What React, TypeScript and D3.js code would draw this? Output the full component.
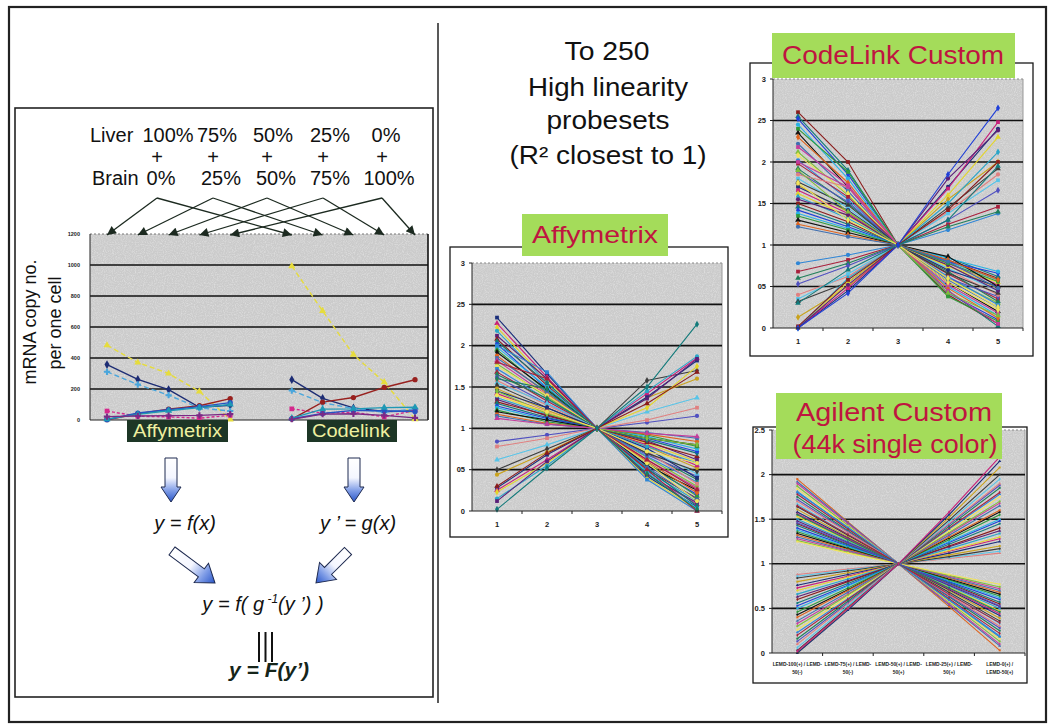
import React from "react";
import * as d3 from "d3";

const FONT = "'Liberation Sans', Arial, Helvetica, sans-serif";

// ---------------- Left panel data ----------------
const mixSlots = ["a1", "a2", "a3", "a4", "a5", "gap", "c1", "c2", "c3", "c4", "c5"];
const affySlots = ["a1", "a2", "a3", "a4", "a5"];
const codelinkSlots = ["c1", "c2", "c3", "c4", "c5"];
const copyTicks = [0, 200, 400, 600, 800, 1000, 1200];
const liverPct = ["100%", "75%", "50%", "25%", "0%"];
const brainPct = ["0%", "25%", "50%", "75%", "100%"];
const copyAffy = [
  [482, 371, 300, 184, 4],
  [358, 262, 196, 82, 95],
  [311, 229, 160, 78, 58],
  [58, 24, 20, 12, 30],
  [2, 40, 70, 92, 138],
  [2, 45, 66, 86, 112],
  [6, 36, 60, 80, 100],
  [22, 26, 28, 30, 38],
];
const copyCodelink = [
  [993, 704, 422, 244, 6],
  [260, 140, 78, 55, 58],
  [190, 112, 74, 50, 72],
  [72, 45, 50, 20, 62],
  [6, 115, 145, 210, 260],
  [8, 42, 62, 58, 55],
  [12, 70, 72, 80, 82],
  [5, 38, 40, 30, 14],
];
const copyColors = ["#e6dc3c", "#1c2c74", "#4aa6dc", "#d4288c", "#98201e", "#2554c4", "#1e98b4", "#7a2a86"];
const copyDash = ["5,3", "", "5,3", "3,2", "", "", "", ""];

// ---------------- Right panel data ----------------
const sampleLabels = ["1", "2", "3", "4", "5"];
const ratioTicks = [0, 0.5, 1, 1.5, 2, 2.5, 3];
const affyTickText = ["0", "05", "1", "1.5", "2", "25", "3"];
const codelinkTickText = ["0", "05", "1", "15", "2", "25", "3"];
const agilentTicks = [0, 0.5, 1, 1.5, 2, 2.5];
const agilentTickText = ["0", "0.5", "1", "1.5", "2", "2.5"];
const agilentSampleText = [
  ["LEMD-100(+) / LEMD-", "50(-)"],
  ["LEMD-75(+) / LEMD-", "50(-)"],
  ["LEMD-50(+) / LEMD-", "50(+)"],
  ["LEMD-25(+) / LEMD-", "50(+)"],
  ["LEMD-0(+) /", "LEMD-50(+)"],
];

const affyRatios = [
  [2.34, 1.66, 1, 0.42, 0.05], [2.27, 1.62, 1, 0.45, 0.08], [2.22, 1.58, 1, 0.4, 0.02],
  [2.18, 1.55, 1, 0.48, 0.12], [2.12, 1.6, 1, 0.44, 0.1], [2.08, 1.52, 1, 0.5, 0.15],
  [2.05, 1.55, 1, 0.52, 0.06], [2.02, 1.48, 1, 0.55, 0.2], [1.98, 1.5, 1, 0.47, 0.03],
  [1.95, 1.45, 1, 0.58, 0.18], [1.92, 1.47, 1, 0.55, 0.25], [1.88, 1.42, 1, 0.6, 0.22],
  [1.85, 1.44, 1, 0.53, 0.14], [1.82, 1.4, 1, 0.62, 0.28], [1.78, 1.38, 1, 0.65, 0.3],
  [1.75, 1.4, 1, 0.58, 0.12], [1.72, 1.35, 1, 0.66, 0.35], [1.68, 1.33, 1, 0.62, 0.26],
  [1.65, 1.36, 1, 0.7, 0.38], [1.62, 1.3, 1, 0.68, 0.42], [1.58, 1.28, 1, 0.72, 0.33],
  [1.55, 1.3, 1, 0.75, 0.45], [1.52, 1.25, 1, 0.7, 0.48], [1.48, 1.22, 1, 0.78, 0.52],
  [1.45, 1.25, 1, 0.76, 0.4], [1.42, 1.2, 1, 0.8, 0.55], [1.4, 1.18, 1, 0.82, 0.6],
  [1.37, 1.17, 1, 0.78, 0.58], [1.35, 1.15, 1, 0.85, 0.62], [1.32, 1.16, 1, 0.83, 0.66],
  [1.3, 1.13, 1, 0.86, 0.7], [1.27, 1.12, 1, 0.88, 0.72], [1.25, 1.1, 1, 0.9, 0.75],
  [1.22, 1.08, 1, 0.92, 0.78], [1.2, 1.1, 1, 0.88, 0.8], [1.17, 1.06, 1, 0.93, 0.84],
  [1.15, 1.05, 1, 0.95, 0.88], [1.12, 1.05, 1, 0.94, 0.9], [1.45, 1.18, 1, 0.88, 0.8],
  [1.4, 1.2, 1, 0.72, 0.58], [2.0, 1.68, 1, 0.38, 0.0], [1.8, 1.6, 1, 0.5, 0.0],
  [1.6, 1.48, 1, 0.45, 0.02],
  [0.84, 0.92, 1, 1.07, 1.15], [0.78, 0.88, 1, 1.1, 1.25], [0.62, 0.8, 1, 1.2, 1.37],
  [0.5, 0.75, 1, 1.58, 1.7], [0.44, 0.71, 1, 1.37, 1.6], [0.28, 0.68, 1, 1.38, 1.82],
  [0.25, 0.62, 1, 1.42, 1.85], [0.23, 0.58, 1, 1.25, 1.75], [0.15, 0.55, 1, 1.45, 1.87],
  [0.12, 0.6, 1, 1.36, 1.84], [0.3, 0.7, 1, 1.3, 1.68], [0.02, 0.52, 1, 1.5, 2.26],
];

const codelinkRatios = [
  [2.6, 2.0, 1, 0.4, 0.05], [2.55, 1.9, 1, 0.45, 0.02], [2.52, 1.85, 1, 0.42, 0.1],
  [2.45, 1.8, 1, 0.5, 0.15], [2.4, 1.88, 1, 0.38, 0.08], [2.35, 1.7, 1, 0.55, 0.2],
  [2.3, 1.75, 1, 0.48, 0.12], [2.22, 1.65, 1, 0.58, 0.25], [2.18, 1.72, 1, 0.52, 0.18],
  [2.12, 1.6, 1, 0.6, 0.3], [2.08, 1.62, 1, 0.55, 0.22], [2.02, 1.55, 1, 0.62, 0.28],
  [1.98, 1.58, 1, 0.65, 0.35], [1.92, 1.5, 1, 0.68, 0.32], [1.88, 1.52, 1, 0.6, 0.38],
  [1.85, 1.7, 1, 0.7, 0.4], [1.8, 1.45, 1, 0.72, 0.45], [1.76, 1.48, 1, 0.66, 0.42],
  [1.72, 1.4, 1, 0.75, 0.48], [1.7, 1.42, 1, 0.7, 0.5], [1.66, 1.38, 1, 0.78, 0.52],
  [1.62, 1.35, 1, 0.74, 0.55], [1.58, 1.32, 1, 0.8, 0.58], [1.55, 1.36, 1, 0.76, 0.45],
  [1.5, 1.28, 1, 0.82, 0.6], [1.46, 1.25, 1, 0.85, 0.62], [1.42, 1.22, 1, 0.8, 0.66],
  [1.38, 1.2, 1, 0.84, 0.68], [1.35, 1.18, 1, 0.78, 0.56], [1.3, 1.15, 1, 0.86, 0.5],
  [1.25, 1.12, 1, 0.82, 0.58], [1.22, 1.1, 1, 0.8, 0.48], [2.0, 1.7, 1, 0.45, 0.05],
  [1.9, 1.4, 1, 0.42, 0.15], [1.75, 1.3, 1, 0.6, 0.25],
  [0.78, 0.88, 1, 1.18, 1.38], [0.68, 0.82, 1, 1.25, 1.46], [0.6, 0.78, 1, 1.22, 1.4],
  [0.53, 0.75, 1, 1.3, 1.66], [0.4, 0.62, 1, 1.4, 1.85], [0.35, 0.65, 1, 1.38, 1.78],
  [0.32, 0.55, 1, 1.45, 1.92], [0.13, 0.5, 1, 1.55, 2.0], [0.0, 0.45, 1, 1.7, 2.4],
  [0.0, 0.48, 1, 1.68, 2.48], [0.0, 0.55, 1, 1.6, 2.3], [0.0, 0.6, 1, 1.5, 2.12],
  [0.0, 0.52, 1, 1.8, 2.38], [0.02, 0.58, 1, 1.42, 2.0], [0.3, 0.7, 1, 1.3, 1.95],
  [0.0, 0.42, 1, 1.85, 2.65],
];

const agilentRatios = [
  [1.95, 1.47, 1, 0.52, 0.03], [1.92, 1.46, 1, 0.54, 0.08], [1.9, 1.45, 1, 0.55, 0.1],
  [1.87, 1.43, 1, 0.57, 0.13], [1.84, 1.42, 1, 0.58, 0.16], [1.81, 1.4, 1, 0.6, 0.19],
  [1.78, 1.39, 1, 0.61, 0.22], [1.75, 1.37, 1, 0.63, 0.25], [1.72, 1.36, 1, 0.64, 0.28],
  [1.7, 1.35, 1, 0.65, 0.3], [1.67, 1.33, 1, 0.67, 0.33], [1.64, 1.32, 1, 0.68, 0.36],
  [1.61, 1.3, 1, 0.7, 0.39], [1.58, 1.29, 1, 0.71, 0.42], [1.56, 1.28, 1, 0.72, 0.44],
  [1.53, 1.26, 1, 0.74, 0.47], [1.5, 1.25, 1, 0.75, 0.5], [1.48, 1.24, 1, 0.76, 0.52],
  [1.45, 1.22, 1, 0.78, 0.55], [1.43, 1.21, 1, 0.79, 0.57], [1.4, 1.2, 1, 0.8, 0.6],
  [1.38, 1.19, 1, 0.81, 0.62], [1.36, 1.18, 1, 0.82, 0.64], [1.34, 1.17, 1, 0.83, 0.66],
  [1.32, 1.16, 1, 0.84, 0.68], [1.3, 1.15, 1, 0.85, 0.7], [1.28, 1.14, 1, 0.86, 0.72],
  [1.26, 1.13, 1, 0.87, 0.74], [1.25, 1.12, 1, 0.88, 0.77], [1.8, 1.41, 1, 0.59, 0.18],
  [1.65, 1.33, 1, 0.66, 0.34], [1.55, 1.27, 1, 0.73, 0.46], [1.46, 1.23, 1, 0.77, 0.53],
  [0.88, 0.94, 1, 1.06, 1.12], [0.86, 0.93, 1, 1.07, 1.14], [0.84, 0.92, 1, 1.08, 1.17],
  [0.8, 0.9, 1, 1.1, 1.2], [0.76, 0.88, 1, 1.12, 1.25], [0.73, 0.86, 1, 1.14, 1.28],
  [0.7, 0.85, 1, 1.15, 1.3], [0.66, 0.83, 1, 1.17, 1.34], [0.63, 0.81, 1, 1.19, 1.37],
  [0.6, 0.8, 1, 1.2, 1.4], [0.56, 0.78, 1, 1.22, 1.45], [0.53, 0.76, 1, 1.24, 1.48],
  [0.5, 0.75, 1, 1.25, 1.5], [0.46, 0.73, 1, 1.27, 1.55], [0.43, 0.71, 1, 1.29, 1.58],
  [0.4, 0.7, 1, 1.3, 1.6], [0.36, 0.68, 1, 1.32, 1.65], [0.33, 0.66, 1, 1.34, 1.68],
  [0.3, 0.65, 1, 1.35, 1.7], [0.26, 0.63, 1, 1.37, 1.75], [0.23, 0.61, 1, 1.39, 1.78],
  [0.2, 0.6, 1, 1.4, 1.8], [0.16, 0.58, 1, 1.42, 1.85], [0.13, 0.56, 1, 1.44, 1.88],
  [0.1, 0.55, 1, 1.45, 1.9], [0.06, 0.53, 1, 1.47, 1.95], [0.03, 0.51, 1, 1.49, 2.0],
  [0.0, 0.5, 1, 1.52, 2.08], [0.0, 0.48, 1, 1.55, 2.15], [0.02, 0.5, 1, 1.58, 2.2],
];

const palette = [
  "#1b2f7a", "#c8207a", "#e3d52a", "#2aa5c8", "#5a1f78", "#8a1c1c", "#127a7a", "#1f3fd8",
  "#27b3e6", "#2f9a3a", "#111111", "#e0641e", "#3f6fb0", "#c43c9c", "#7fbf3a", "#f2e35a",
  "#2f86d6", "#a8203c", "#1f7f5a", "#5050c0", "#e08080", "#58c4e8", "#3c3c3c", "#c9a21c",
];
const symbols = [d3.symbolSquare, d3.symbolTriangle, d3.symbolDiamond, d3.symbolCircle];

type Plot = { x0: number; x1: number; y0: number; y1: number };
type Frame = { x: number; y: number; w: number; h: number };

function RatioChart(props: {
  frame: Frame; plot: Plot; yMax: number; ticks: number[]; tickText: string[];
  series: number[][]; markerSize: number; multiLabels?: string[][]; colorOffset: number;
}) {
  const { frame, plot, yMax, ticks, tickText, series, markerSize, multiLabels, colorOffset } = props;
  const x = d3.scalePoint<string>().domain(sampleLabels).range([plot.x0, plot.x1]).padding(0.5);
  const y = d3.scaleLinear().domain([0, yMax]).range([plot.y0, plot.y1]);
  const line = d3.line<number>().x((_, i) => x(sampleLabels[i]) as number).y((d) => y(d));
  const step = x.step();
  return (
    <g>
      <rect x={frame.x} y={frame.y} width={frame.w} height={frame.h} fill="#fff" stroke="#1a1a1a" strokeWidth={1.3} />
      <rect x={plot.x0} y={y(yMax)} width={plot.x1 - plot.x0} height={y(0) - y(yMax)} fill="#cbcbcb" />
      <rect x={plot.x0} y={y(yMax)} width={plot.x1 - plot.x0} height={y(0) - y(yMax)} fill="#fff" filter="url(#grain)" />
      <line x1={plot.x0} x2={plot.x1} y1={y(yMax)} y2={y(yMax)} stroke="#888" strokeDasharray="2,2" />
      <line x1={plot.x1} x2={plot.x1} y1={y(yMax)} y2={y(0)} stroke="#999" />
      {ticks.filter((t) => t > 0 && t < yMax).map((t) => (
        <line key={t} x1={plot.x0} x2={plot.x1} y1={y(t)} y2={y(t)} stroke="#111" strokeWidth={1.6} />
      ))}
      {series.map((s, i) => (
        <path key={i} d={line(s) as string} fill="none" stroke={palette[(i + colorOffset) % palette.length]} strokeWidth={1.1} />
      ))}
      {markerSize > 0 && series.map((s, i) => (
        <g key={"m" + i} fill={palette[(i + colorOffset) % palette.length]}>
          {s.map((v, j) => (
            <path key={j} transform={`translate(${x(sampleLabels[j])},${y(v)})`} d={d3.symbol(symbols[i % symbols.length], markerSize)() as string} />
          ))}
        </g>
      ))}
      <line x1={plot.x0} x2={plot.x0} y1={y(yMax)} y2={y(0)} stroke="#222" strokeWidth={1} />
      <line x1={plot.x0} x2={plot.x1} y1={y(0)} y2={y(0)} stroke="#222" strokeWidth={1} />
      {ticks.map((t, i) => (
        <g key={"t" + t}>
          <line x1={plot.x0 - 3} x2={plot.x0} y1={y(t)} y2={y(t)} stroke="#222" />
          <text x={plot.x0 - 7} y={y(t) + 2.5} fontSize={7.5} fontWeight="bold" textAnchor="end" fill="#222" fontFamily={FONT}>{tickText[i]}</text>
        </g>
      ))}
      {sampleLabels.map((lab, i) => (
        <line key={"xt" + i} x1={plot.x0 + step * (i + 1)} x2={plot.x0 + step * (i + 1)} y1={y(0)} y2={y(0) + 3} stroke="#222" />
      ))}
      {!multiLabels && sampleLabels.map((lab) => (
        <text key={"xl" + lab} x={x(lab)} y={y(0) + 16} fontSize={7.5} fontWeight="bold" textAnchor="middle" fill="#222" fontFamily={FONT}>{lab}</text>
      ))}
      {multiLabels && sampleLabels.map((lab, i) => (
        <text key={"xm" + lab} x={x(lab)} y={y(0) + 13} fontSize={4.9} fontWeight="bold" textAnchor="middle" fill="#222" fontFamily={FONT}>
          <tspan x={x(lab)}>{multiLabels[i][0]}</tspan>
          <tspan x={x(lab)} dy={8}>{multiLabels[i][1]}</tspan>
        </text>
      ))}
    </g>
  );
}

function BlockArrow({ x1, y1, x2, y2, sw, hw, hl }: { x1: number; y1: number; x2: number; y2: number; sw: number; hw: number; hl: number }) {
  const L = Math.hypot(x2 - x1, y2 - y1);
  const ang = (Math.atan2(y2 - y1, x2 - x1) * 180) / Math.PI;
  const d = `M0,${-sw / 2} L${L - hl},${-sw / 2} L${L - hl},${-hw / 2} L${L},0 L${L - hl},${hw / 2} L${L - hl},${sw / 2} L0,${sw / 2} Z`;
  return <path d={d} transform={`translate(${x1},${y1}) rotate(${ang})`} fill="url(#blueGrad)" stroke="#1e2a50" strokeWidth={1} />;
}

export default function App() {
  // left copy-number chart
  const lx = d3.scalePoint<string>().domain(mixSlots).range([107, 415]);
  const ly = d3.scaleLinear().domain([0, 1200]).range([420, 234]);
  const lline = d3.line<number>().y((d) => ly(d));
  const liverX = [168, 217, 273, 330, 386];
  const brainX = [161, 221, 276, 330, 389];
  const plusX = [157, 213, 267, 323, 382];
  const leftSymbols = [d3.symbolTriangle, d3.symbolDiamond, d3.symbolCross, d3.symbolSquare, d3.symbolCircle, d3.symbolCircle, d3.symbolTriangle, d3.symbolCross];

  return (
    <svg width={1050} height={725} style={{ position: "absolute", left: 0, top: 0, background: "#fff" }} fontFamily={FONT}>
      <defs>
        <filter id="grain" x="0" y="0" width="1" height="1">
          <feTurbulence type="fractalNoise" baseFrequency="0.9" numOctaves={2} seed={4} result="n" />
          <feColorMatrix in="n" type="matrix" values="0 0 0 0 1  0 0 0 0 1  0 0 0 0 1  0 0 0 0.8 -0.33" />
        </filter>
        <linearGradient id="blueGrad" x1="0" y1="0" x2="1" y2="0">
          <stop offset="0" stopColor="#ffffff" />
          <stop offset="0.45" stopColor="#f4f6ff" />
          <stop offset="0.75" stopColor="#7d9be6" />
          <stop offset="1" stopColor="#2a56c8" />
        </linearGradient>
        <marker id="ah" viewBox="0 0 10 10" refX="10" refY="5" markerWidth="11" markerHeight="9" markerUnits="userSpaceOnUse" orient="auto">
          <path d="M0,0 L10,5 L0,10 Z" fill="#1c2a20" />
        </marker>
      </defs>
      <rect x={0} y={0} width={1050} height={725} fill="#fff" />

      {/* outer frame */}
      <rect x={9} y={7} width={1037} height={715} fill="none" stroke="#222" strokeWidth={2.2} />
      <line x1={438} x2={438} y1={23} y2={703} stroke="#222" strokeWidth={1.5} />
      <rect x={15} y={108} width={418} height={589} fill="none" stroke="#222" strokeWidth={1.6} />

      {/* ---------- left panel ---------- */}
      <g fontSize={20} fill="#111">
        <text x={90} y={142}>Liver</text>
        {liverPct.map((p, i) => (
          <text key={"lv" + i} x={liverX[i]} y={142} textAnchor="middle">{p}</text>
        ))}
        {plusX.map((px, i) => (
          <text key={"pl" + i} x={px} y={164} textAnchor="middle">+</text>
        ))}
        <text x={92} y={185}>Brain</text>
        {brainPct.map((p, i) => (
          <text key={"br" + i} x={brainX[i]} y={185} textAnchor="middle">{p}</text>
        ))}
      </g>

      <text transform="translate(36,322) rotate(-90)" fontSize={18} textAnchor="middle" fill="#111">mRNA copy no.</text>
      <text transform="translate(61,323) rotate(-90)" fontSize={18} textAnchor="middle" fill="#111">per one cell</text>

      {/* left chart */}
      <rect x={90} y={ly(1200)} width={338} height={ly(0) - ly(1200)} fill="#cbcbcb" />
      <rect x={90} y={ly(1200)} width={338} height={ly(0) - ly(1200)} fill="#fff" filter="url(#grain)" />
      <line x1={90} x2={428} y1={ly(1200)} y2={ly(1200)} stroke="#777" strokeDasharray="2,2" />
      {copyTicks.filter((t) => t > 0 && t < 1200).map((t) => (
        <line key={"lg" + t} x1={90} x2={428} y1={ly(t)} y2={ly(t)} stroke="#111" strokeWidth={1.6} />
      ))}
      <line x1={428} x2={428} y1={ly(1200)} y2={ly(0)} stroke="#111" strokeWidth={1.6} />
      <line x1={90} x2={90} y1={ly(1200)} y2={ly(0)} stroke="#222" />
      <line x1={90} x2={428} y1={ly(0)} y2={ly(0)} stroke="#222" />
      {copyTicks.map((t) => (
        <text key={"lt" + t} x={80} y={ly(t) + 2} fontSize={5.5} fontWeight="bold" textAnchor="end" fill="#222">{t}</text>
      ))}
      {copyAffy.map((s, i) => {
        const d = lline.x((_, j) => lx(affySlots[j]) as number)(s) as string;
        return <path key={"la" + i} d={d} fill="none" stroke={copyColors[i]} strokeWidth={1.4} strokeDasharray={copyDash[i] || undefined} />;
      })}
      {copyCodelink.map((s, i) => {
        const d = lline.x((_, j) => lx(codelinkSlots[j]) as number)(s) as string;
        return <path key={"lc" + i} d={d} fill="none" stroke={copyColors[i]} strokeWidth={1.4} strokeDasharray={copyDash[i] || undefined} />;
      })}
      {copyAffy.map((s, i) => (
        <g key={"lam" + i} fill={copyColors[i]}>
          {s.map((v, j) => (
            <path key={j} transform={`translate(${lx(affySlots[j])},${ly(v)})`} d={d3.symbol(leftSymbols[i], 22)() as string} />
          ))}
          {copyCodelink[i].map((v, j) => (
            <path key={"c" + j} transform={`translate(${lx(codelinkSlots[j])},${ly(v)})`} d={d3.symbol(leftSymbols[i], 22)() as string} />
          ))}
        </g>
      ))}
      <rect x={127} y={420} width={101} height={22} fill="#1d3626" />
      <text x={177.5} y={437} fontSize={18} textAnchor="middle" fill="#eef0a0" textLength={89} lengthAdjust="spacingAndGlyphs">Affymetrix</text>
      <rect x={307} y={420} width={90} height={22} fill="#1d3626" />
      <text x={351} y={437} fontSize={18} textAnchor="middle" fill="#eef0a0" textLength={78} lengthAdjust="spacingAndGlyphs">Codelink</text>

      {/* connector arrows */}
      {plusX.map((cx, i) => (
        <g key={"ar" + i} stroke="#1c2a20" strokeWidth={1.3}>
          <line x1={cx} y1={198} x2={lx(affySlots[i]) as number} y2={235} markerEnd="url(#ah)" />
          <line x1={cx} y1={198} x2={lx(codelinkSlots[i]) as number} y2={235} markerEnd="url(#ah)" />
        </g>
      ))}

      {/* formula */}
      <BlockArrow x1={171} y1={458} x2={171} y2={502} sw={12} hw={20} hl={15} />
      <BlockArrow x1={354} y1={458} x2={354} y2={502} sw={12} hw={20} hl={15} />
      <text x={185} y={530} fontSize={20} fontStyle="italic" textAnchor="middle" fill="#111">y = f(x)</text>
      <text x={358} y={530} fontSize={20} fontStyle="italic" textAnchor="middle" fill="#111">y ’ = g(x)</text>
      <BlockArrow x1={172} y1={551} x2={215} y2={583} sw={10} hw={24} hl={17} />
      <BlockArrow x1={348} y1={551} x2={316} y2={583} sw={10} hw={24} hl={17} />
      <text x={263} y={611} fontSize={20} fontStyle="italic" textAnchor="middle" fill="#111">
        y = f( g<tspan dy={-8} fontSize={12}> -1</tspan><tspan dy={8}>(y ’) )</tspan>
      </text>
      <g stroke="#111" strokeWidth={2}>
        <line x1={259} x2={259} y1={632} y2={662} />
        <line x1={265.5} x2={265.5} y1={632} y2={662} />
        <line x1={272} x2={272} y1={632} y2={662} />
      </g>
      <text x={269} y={677} fontSize={21} fontStyle="italic" fontWeight="bold" textAnchor="middle" fill="#15251a">y = F(y’)</text>

      {/* ---------- right panel ---------- */}
      <g fontSize={25} fill="#111" textAnchor="middle">
        <text x={607} y={60} textLength={85} lengthAdjust="spacingAndGlyphs">To 250</text>
        <text x={608} y={96} textLength={160} lengthAdjust="spacingAndGlyphs">High linearity</text>
        <text x={608} y={129} textLength={123} lengthAdjust="spacingAndGlyphs">probesets</text>
        <text x={608} y={164} textLength={197} lengthAdjust="spacingAndGlyphs">(R² closest to 1)</text>
      </g>

      <RatioChart frame={{ x: 450, y: 247, w: 278, h: 290 }} plot={{ x0: 472, x1: 722, y0: 511, y1: 263 }}
        yMax={3} ticks={ratioTicks} tickText={affyTickText} series={affyRatios} markerSize={14} colorOffset={0} />
      <RatioChart frame={{ x: 750, y: 63, w: 283, h: 293 }} plot={{ x0: 773, x1: 1023, y0: 328, y1: 79 }}
        yMax={3} ticks={ratioTicks} tickText={codelinkTickText} series={codelinkRatios} markerSize={14} colorOffset={5} />
      <RatioChart frame={{ x: 753, y: 427, w: 274, h: 256 }} plot={{ x0: 772, x1: 1025, y0: 653, y1: 430 }}
        yMax={2.5} ticks={agilentTicks} tickText={agilentTickText} series={agilentRatios} markerSize={4} colorOffset={11}
        multiLabels={agilentSampleText} />

      {/* green titles */}
      <rect x={522} y={214} width={146} height={42} fill="#a4dc5a" />
      <text x={595} y={243} fontSize={24} textAnchor="middle" fill="#bf1540" textLength={126} lengthAdjust="spacingAndGlyphs">Affymetrix</text>
      <rect x={772} y={33} width={243} height={45} fill="#a4dc5a" />
      <text x={893} y={64} fontSize={25} textAnchor="middle" fill="#bf1540" textLength={222} lengthAdjust="spacingAndGlyphs">CodeLink Custom</text>
      <rect x={776} y={393} width={226} height={66} fill="#a4dc5a" />
      <text x={894} y={421} fontSize={25} textAnchor="middle" fill="#bf1540" textLength={196} lengthAdjust="spacingAndGlyphs">Agilent Custom</text>
      <text x={895} y={453} fontSize={25} textAnchor="middle" fill="#bf1540" textLength={205} lengthAdjust="spacingAndGlyphs">(44k single color)</text>
    </svg>
  );
}
